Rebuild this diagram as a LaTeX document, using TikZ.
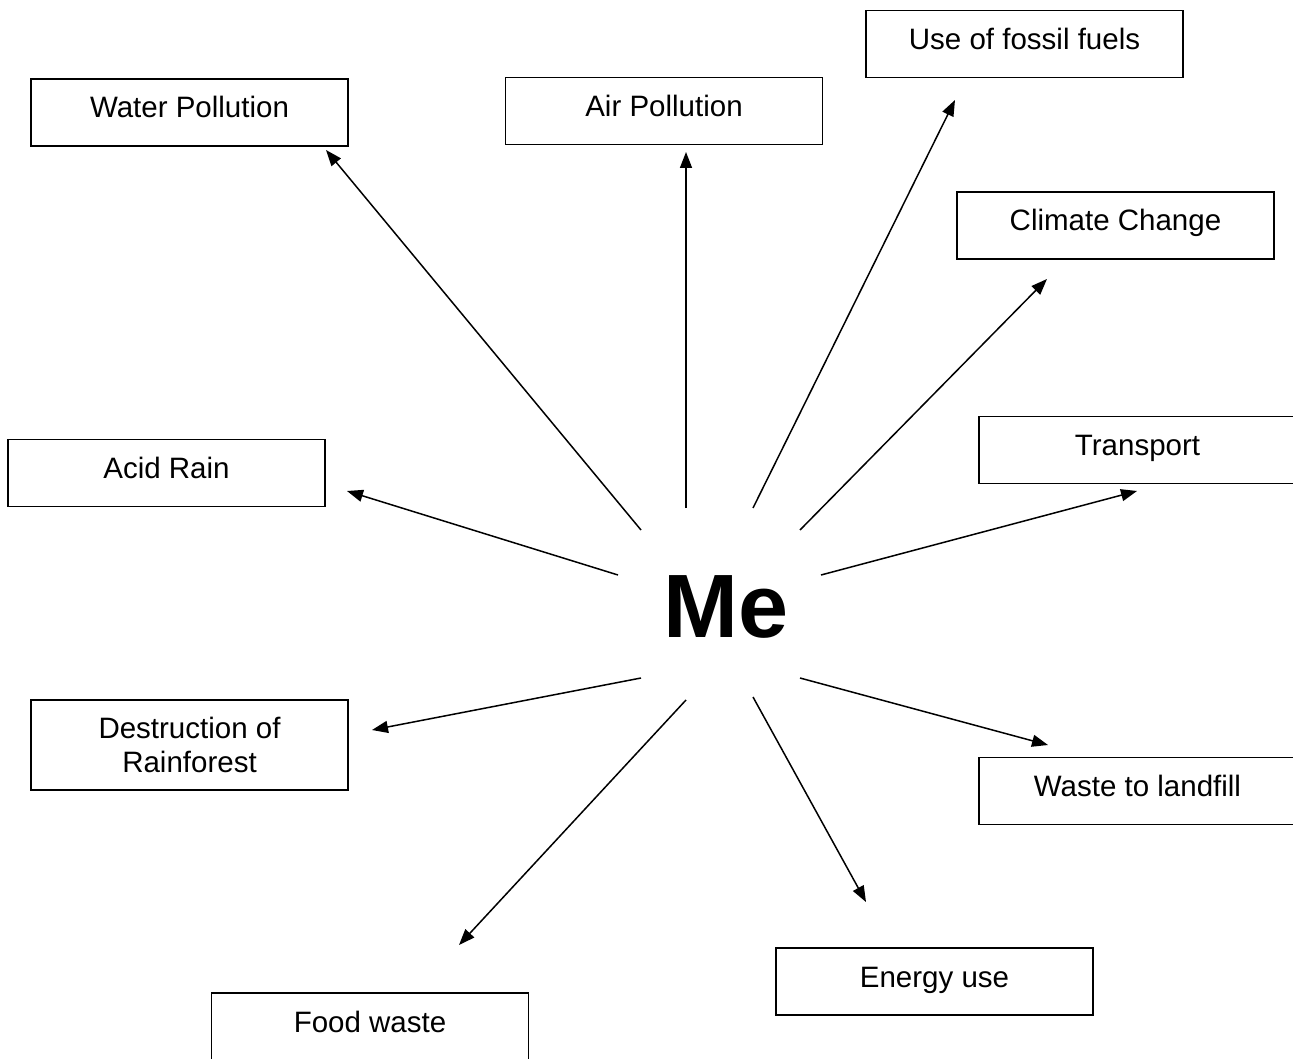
\documentclass[tikz,border=0pt]{standalone}
\usepackage{fontspec}
\setmainfont{Liberation Sans}
\usetikzlibrary{arrows.meta}
\begin{document}
\begin{tikzpicture}[x=1pt,y=-1pt,
  box/.style={draw=black,line width=1.5pt,rectangle,minimum width=317pt,minimum height=67pt,
    font=\fontsize{29.5}{35}\selectfont,text height=21pt,text depth=10pt,inner sep=0pt},
  box2/.style={draw=black,line width=1.5pt,rectangle,minimum width=317pt,minimum height=90pt,
    font=\fontsize{29.5}{34}\selectfont,align=center,inner sep=0pt},
  arr/.style={line width=1.5pt,-{Triangle[length=16pt,width=12pt]}}]
\useasboundingbox (0,0) rectangle (1293,1059);
\clip (0,0) rectangle (1293,1059);
\fill[white] (0,0) rectangle (1293,1059);

\node[font=\fontsize{90}{90}\selectfont\bfseries,inner sep=0pt] (me) at (726,607) {Me};

\node[box] (wp) at (189.5,112.5) {Water Pollution};
\node[box] (ap) at (664,111) {Air Pollution};
\node[box] (ff) at (1024.5,44) {Use of fossil fuels};
\node[box] (cc) at (1115.5,225.5) {Climate Change};
\node[box] (tr) at (1137.5,450) {Transport};
\node[box] (ar) at (166.5,473) {Acid Rain};
\node[box2] (dr) at (189.5,745) {Destruction of\\Rainforest};
\node[box] (wl) at (1137.5,791) {Waste to landfill};
\node[box] (eu) at (934.5,981.5) {Energy use};
\node[box,minimum height=74pt,text depth=17pt] (fw) at (370,1030) {Food waste};

\coordinate (wpS) at (641,530);  \coordinate (wpE) at (326,150);
\coordinate (apS) at (686,508);  \coordinate (apE) at (686,152);
\coordinate (ffS) at (753,508);  \coordinate (ffE) at (955,100);
\coordinate (ccS) at (800,530);  \coordinate (ccE) at (1047,279);
\coordinate (trS) at (821,575);  \coordinate (trE) at (1137,491);
\coordinate (arS) at (618,575);  \coordinate (arE) at (347,491);
\coordinate (drS) at (641,678);  \coordinate (drE) at (372,730);
\coordinate (wlS) at (800,678);  \coordinate (wlE) at (1048,745);
\coordinate (euS) at (753,697);  \coordinate (euE) at (866,902);
\coordinate (fwS) at (686,700);  \coordinate (fwE) at (459,945);

\draw[arr] (wpS) -- (wpE);
\draw[arr] (apS) -- (apE);
\draw[arr] (ffS) -- (ffE);
\draw[arr] (ccS) -- (ccE);
\draw[arr] (trS) -- (trE);
\draw[arr] (arS) -- (arE);
\draw[arr] (drS) -- (drE);
\draw[arr] (wlS) -- (wlE);
\draw[arr] (euS) -- (euE);
\draw[arr] (fwS) -- (fwE);
\end{tikzpicture}
\end{document}
